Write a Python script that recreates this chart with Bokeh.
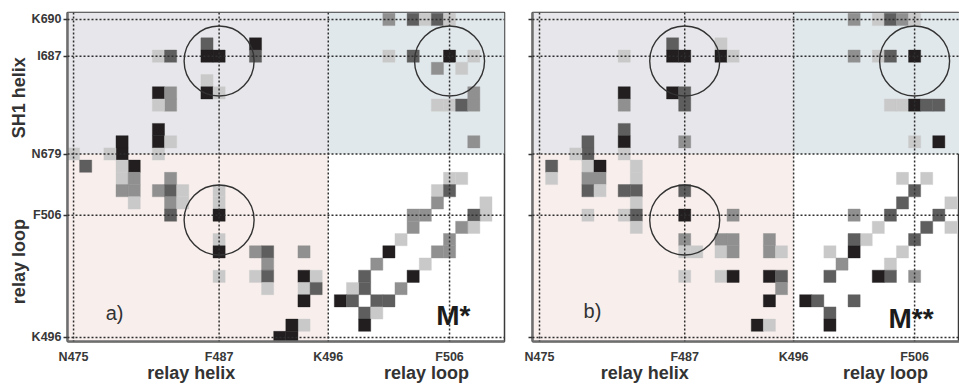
from bokeh.embed import file_html
from bokeh.layouts import row
from bokeh.models import (BoxAnnotation, ColumnDataSource, FixedTicker, Label,
                          LinearAxis, Span)
from bokeh.plotting import figure
from bokeh.resources import INLINE

# ---------------------------------------------------------------------------
# Contact maps: residue on the horizontal axis (relay helix + relay loop),
# residue on the vertical axis (relay loop + SH1 helix), contact level 1..4
# ---------------------------------------------------------------------------
A_RES_X = [
    486, 486, 487, 490, 490, 486, 486, 487, 482, 483, 482, 483, 483, 482, 482,
    482, 483, 482, 479, 479, 478, 475,
    476, 480, 479, 479, 480, 479, 480, 480, 482, 483, 483, 483, 483, 484, 484,
    487, 487, 487, 487, 487, 487, 490, 491, 491, 490, 491, 491, 494, 494, 495,
    494, 495, 494, 494, 493, 493, 492,
    501, 503, 504, 505, 506, 501, 503, 506, 508, 505, 507, 505, 506, 507, 508,
    508, 508,
    506, 507, 505, 506, 505, 503, 504, 503, 502, 501, 500, 499, 499, 498, 497,
    498, 500, 501, 499, 500, 499,
    509, 509, 508, 508, 507, 506, 506, 505, 504, 503, 502,
]
A_RES_Y = [
    688, 687, 687, 688, 687, 685, 684, 684, 687, 687, 684, 684, 683, 683, 681,
    680, 680, 679, 680, 679, 679, 679,
    510, 510, 510, 509, 509, 508, 508, 507, 508, 509, 508, 507, 506, 508, 507,
    508, 507, 506, 504, 503, 501, 503, 503, 502, 501, 501, 500, 503, 501, 501,
    500, 500, 499, 497, 497, 496, 496,
    690, 690, 690, 690, 690, 687, 687, 687, 687, 686, 686, 683, 683, 683, 684,
    683, 680,
    509, 509, 508, 508, 507, 506, 506, 505, 504, 503, 502, 501, 500, 500, 499,
    499, 499, 499, 498, 498, 497,
    507, 506, 506, 505, 505, 504, 503, 503, 502, 501, 500,
]
A_LEVEL = [
    3, 4, 4, 4, 3, 1, 4, 1, 1, 3, 4, 2, 2, 1, 4,
    4, 1, 1, 4, 4, 1, 1,
    3, 4, 1, 1, 2, 2, 2, 1, 2, 2, 3, 2, 3, 1, 1,
    1, 1, 4, 1, 4, 1, 2, 3, 2, 1, 3, 1, 2, 4, 1,
    1, 3, 4, 1, 4, 4, 4,
    2, 3, 1, 3, 1, 1, 3, 4, 1, 2, 1, 1, 1, 3, 2,
    2, 2,
    1, 1, 1, 3, 2, 2, 2, 2, 1, 4, 2, 3, 3, 1, 4,
    3, 3, 3, 3, 1, 4,
    1, 1, 3, 1, 2, 2, 2, 2, 1, 4, 2,
]

B_RES_X = [
    486, 486, 487, 490, 490, 491, 482, 486, 487, 487, 482, 482, 482, 482, 482,
    487, 479, 479, 478,
    476, 476, 479, 480, 479, 480, 479, 480, 483, 483, 482, 483, 483, 482, 483,
    483, 479, 487, 487, 491, 487, 487, 488, 487, 490, 491, 490, 491, 490, 491,
    494, 494, 495, 494, 495, 495, 494, 493, 494,
    501, 503, 504, 505, 506, 501, 503, 504, 506, 504, 505, 506, 507, 508, 506,
    508,
    505, 507, 506, 505, 504, 501, 503, 502, 501, 501, 499, 500, 499, 501, 497,
    498, 499, 499,
    509, 508, 509, 507, 506, 505, 504, 504, 503, 506,
]
B_RES_Y = [
    688, 687, 687, 688, 687, 687, 687, 684, 684, 683, 684, 683, 681, 680, 679,
    680, 680, 679, 679,
    510, 509, 510, 510, 509, 509, 508, 508, 510, 509, 508, 508, 507, 506, 506,
    505, 506, 508, 506, 506, 504, 503, 503, 501, 504, 504, 503, 503, 501, 501,
    504, 503, 503, 501, 501, 500, 499, 497, 497,
    690, 690, 690, 690, 690, 687, 687, 687, 687, 683, 683, 683, 683, 683, 680,
    680,
    509, 509, 508, 507, 506, 506, 505, 504, 504, 503, 503, 502, 501, 499, 499,
    499, 498, 497,
    507, 506, 505, 505, 504, 503, 502, 501, 501, 501,
]
B_LEVEL = [
    3, 4, 4, 1, 4, 1, 1, 4, 3, 3, 4, 2, 3, 4, 1,
    2, 3, 3, 1,
    3, 1, 1, 4, 2, 2, 3, 1, 1, 1, 3, 3, 1, 1, 3,
    1, 1, 3, 4, 2, 2, 1, 1, 1, 2, 2, 1, 2, 1, 4,
    2, 2, 1, 4, 3, 2, 4, 4, 1,
    2, 1, 3, 2, 1, 2, 1, 3, 4, 1, 1, 4, 3, 3, 1,
    4,
    1, 1, 3, 3, 3, 2, 1, 1, 3, 4, 1, 2, 3, 3, 4,
    3, 3, 4,
    1, 3, 1, 3, 3, 1, 1, 3, 4, 2,
]

X_TICK_RES = [475, 487, 496, 506]
X_TICK_LABELS = ["N475", "F487", "K496", "F506"]
Y_TICK_RES = [496, 506, 679, 687, 690]
Y_TICK_LABELS = ["K496", "F506", "N679", "I687", "K690"]

X_GROUPS = ["relay helix", "relay loop"]
Y_GROUPS = ["relay loop", "SH1 helix"]

# highlighted contacts (relay-helix/relay-loop residue, partner residue)
RING_RES_X = [487, 487, 506]
RING_RES_Y = [687, 506, 687]

PANEL_TAGS = ["a)", "b)"]
STATE_NAMES = ["M*", "M**"]

LEVEL_COLORS = {1: "#c9c9c9", 2: "#909090", 3: "#5e5e5e", 4: "#221e1f"}

TICK_FONT = "Liberation Sans"
TEXT_FONT = "Liberation Sans"


def xpos(res):
    """Column position of a residue along the horizontal axis."""
    return res - 475


def ypos(res):
    """Row position: relay loop (496..510) first, then SH1 helix (679..690)."""
    return res - 496 if res < 600 else res - 664


def style_ticks(ax):
    ax.major_label_text_font = TICK_FONT
    ax.major_label_text_font_style = "bold"
    ax.major_label_text_font_size = "12.5px"
    ax.major_label_text_color = "#383838"
    ax.minor_tick_line_color = None


def group_axis(ticks, names, orientation, standoff):
    ax = LinearAxis(ticker=FixedTicker(ticks=ticks),
                    major_label_overrides=dict(zip(ticks, names)))
    ax.axis_line_color = None
    ax.major_tick_line_color = None
    ax.minor_tick_line_color = None
    ax.major_tick_out = 0
    ax.major_tick_in = 0
    ax.major_label_standoff = standoff
    ax.major_label_orientation = orientation
    ax.major_label_text_font = TEXT_FONT
    ax.major_label_text_font_style = "bold"
    ax.major_label_text_font_size = "18px"
    ax.major_label_text_color = "#333333"
    return ax


def make_panel(rx, ry, lv, tag, state, width, left, right, x_range, show_y_labels,
               group_x, tag_xy, state_xy):
    p = figure(
        width=width, height=385,
        x_range=x_range, y_range=(-0.33, 26.57),
        output_backend="svg", toolbar_location=None,
        min_border_left=left, min_border_right=right,
        min_border_top=12, min_border_bottom=44,
    )
    p.grid.visible = False
    p.background_fill_color = "white"
    p.border_fill_color = "white"
    p.outline_line_color = "#3a3a3a"
    p.outline_line_width = 1.5

    split_x = xpos(496)
    split_y = ypos(679)
    # quadrant shading
    p.add_layout(BoxAnnotation(right=split_x, bottom=split_y, fill_color="#e7e7eb",
                               fill_alpha=1, line_color=None, level="underlay"))
    p.add_layout(BoxAnnotation(left=split_x, bottom=split_y, fill_color="#e1e8eb",
                               fill_alpha=1, line_color=None, level="underlay"))
    p.add_layout(BoxAnnotation(right=split_x, top=split_y, fill_color="#f8efed",
                               fill_alpha=1, line_color=None, level="underlay"))

    src = ColumnDataSource(dict(
        x=[xpos(r) for r in rx],
        y=[ypos(r) for r in ry],
        c=[LEVEL_COLORS[v] for v in lv],
    ))
    p.rect("x", "y", width=1, height=1, source=src, fill_color="c",
           line_color="c", line_width=0.4)

    # dotted guide lines through the labelled residues
    for r in X_TICK_RES:
        p.add_layout(Span(location=xpos(r), dimension="height", line_color="#2e2e2e",
                          line_width=1.5, line_dash="2 2"))
    for r in Y_TICK_RES:
        p.add_layout(Span(location=ypos(r), dimension="width", line_color="#2e2e2e",
                          line_width=1.5, line_dash="2 2"))

    p.scatter([xpos(r) for r in RING_RES_X], [ypos(r) - 0.4 for r in RING_RES_Y],
              marker="circle", size=70, fill_color=None, line_color="#333333",
              line_width=1.4)

    # residue axes
    xa = p.xaxis[0]
    xa.ticker = FixedTicker(ticks=[xpos(r) for r in X_TICK_RES])
    xa.major_label_overrides = {xpos(r): t for r, t in zip(X_TICK_RES, X_TICK_LABELS)}
    xa.axis_line_color = "#6e6e6e"
    xa.axis_line_width = 2.5
    xa.major_tick_out = 0
    xa.major_tick_in = 0
    xa.major_label_standoff = 8
    style_ticks(xa)

    ya = p.yaxis[0]
    ya.ticker = FixedTicker(ticks=[ypos(r) for r in Y_TICK_RES])
    ya.axis_line_color = "#6e6e6e"
    ya.axis_line_width = 2.5
    ya.major_tick_out = 4
    ya.major_tick_in = 0
    ya.major_tick_line_color = "#333333"
    ya.major_tick_line_width = 1.5
    ya.major_label_standoff = 2
    style_ticks(ya)
    if show_y_labels:
        ya.major_label_overrides = {ypos(r): t for r, t in zip(Y_TICK_RES, Y_TICK_LABELS)}
        p.add_layout(group_axis([6.2, 19.6], Y_GROUPS, "vertical", -1), "left")
    else:
        ya.major_label_overrides = {ypos(r): "" for r in Y_TICK_RES}

    # segment names under the residue labels
    p.add_layout(group_axis(group_x, X_GROUPS, "horizontal", -4), "below")

    p.add_layout(Label(x=tag_xy[0], y=tag_xy[1], text=tag, text_align="left",
                       text_baseline="alphabetic", text_font=TEXT_FONT,
                       text_font_size="20px", text_color="#333333"))
    p.add_layout(Label(x=state_xy[0], y=state_xy[1], text=state, text_align="left",
                       text_baseline="alphabetic", text_font=TEXT_FONT,
                       text_font_style="bold", text_font_size="28px",
                       text_color="#1c1c1c"))
    return p


pa = make_panel(A_RES_X, A_RES_Y, A_LEVEL, PANEL_TAGS[0], STATE_NAMES[0],
                width=518, left=67, right=14, x_range=(-0.5, 35.53),
                show_y_labels=True, group_x=[9.7, 29.1],
                tag_xy=(2.65, 1.97), state_xy=(29.9, 1.8))
pb = make_panel(B_RES_X, B_RES_Y, B_LEVEL, PANEL_TAGS[1], STATE_NAMES[1],
                width=441, left=14, right=0, x_range=(-0.58, 34.71),
                show_y_labels=False, group_x=[8.7, 28.6],
                tag_xy=(3.64, 2.2), state_xy=(28.84, 1.56))

layout = row(pa, pb)
open("out.html", "w").write(file_html(layout, INLINE))
